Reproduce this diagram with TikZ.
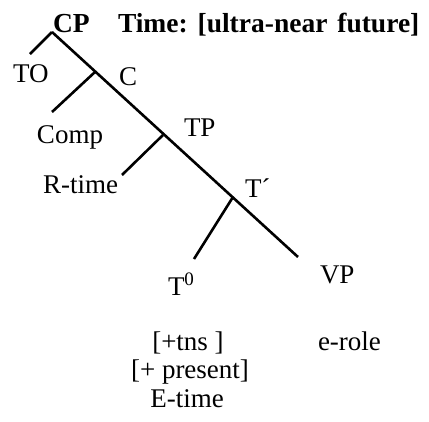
\documentclass[tikz,border=0pt]{standalone}
\usepackage{fontspec}
\setmainfont{Liberation Serif}
\begin{document}
\begin{tikzpicture}[x=1pt,y=-1pt,
  lbl/.style={inner sep=0pt,outer sep=0pt,anchor=base west,font=\fontsize{27}{32}\selectfont},
  lblc/.style={lbl,anchor=base},
  bld/.style={lbl,font=\fontsize{27.5}{32}\selectfont\bfseries},
  branch/.style={line width=2.6pt}]
\useasboundingbox (0,0) rectangle (429,421);
% junctions and free ends
\coordinate (cp) at (52,32);
\coordinate (c) at (95,72);
\coordinate (tp) at (163,135);
\coordinate (tb) at (233,197);
\coordinate (vpend) at (298,257);
\coordinate (toend) at (30,54);
\coordinate (compend) at (52,112);
\coordinate (rtend) at (122,175);
\coordinate (t0end) at (194,259);
% labels
\node[bld] (CP) at (53,32) {CP};
\node[bld] (title) at (118,32) {Time:\hspace{0.36em}[ultra-near\hspace{0.36em}future]};
\node[lbl] (TO) at (13,82) {TO};
\node[lbl] (C) at (119,85) {C};
\node[lbl] (Comp) at (37,143) {Comp};
\node[lbl] (TP) at (184,136) {TP};
\node[lbl] (Rtime) at (43,193) {R-time};
\node[lbl] (Tbar) at (245,197) {T´};
\node[lbl] (T0) at (168,295) {T\raisebox{10pt}{\fontsize{19}{22}\selectfont 0}};
\node[lbl] (VP) at (320,283) {VP};
\node[lblc] (tns) at (188,350) {[+tns ]};
\node[lblc] (pres) at (190,378) {[+ present]};
\node[lblc] (Etime) at (187,407) {E-time};
\node[lbl] (erole) at (318,350) {e-role};
% branches
\draw[branch] (cp) -- (vpend);
\draw[branch] (cp) -- (toend);
\draw[branch] (c) -- (compend);
\draw[branch] (tp) -- (rtend);
\draw[branch] (tb) -- (t0end);
\end{tikzpicture}
\end{document}
